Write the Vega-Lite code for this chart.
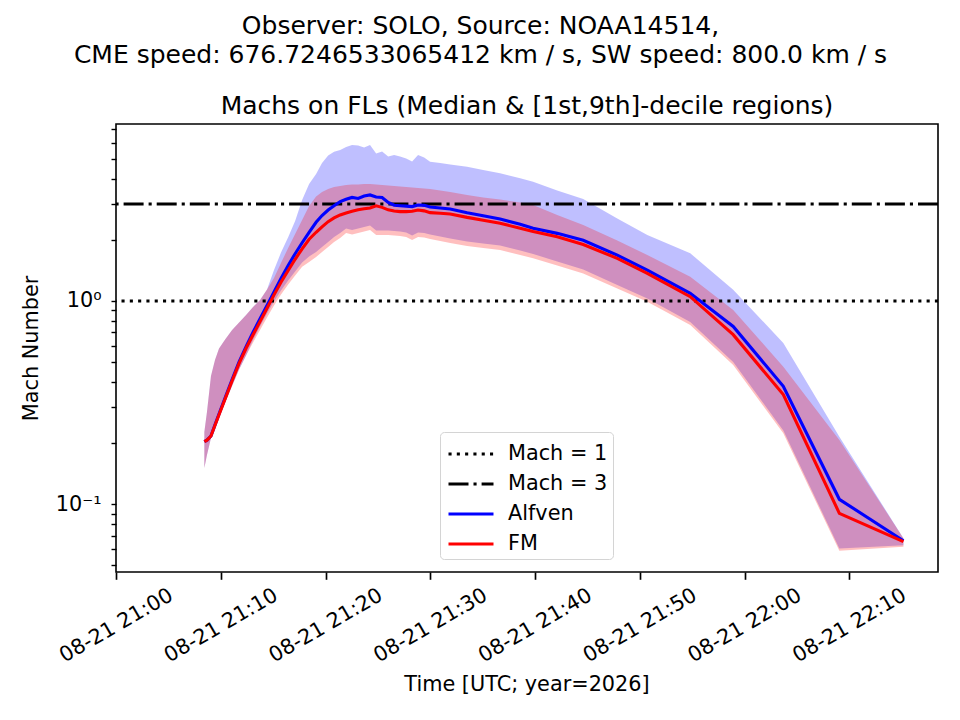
{
  "$schema": "https://vega.github.io/schema/vega-lite/v6.json",
  "width": 822,
  "height": 448,
  "autosize": {"type": "none"},
  "padding": {"left": 116, "top": 124, "right": 22, "bottom": 148},
  "background": "white",
  "title": {
    "text": "Time [UTC; year=2026]",
    "subtitle": "Machs on FLs (Median & [1st,9th]-decile regions)",
    "orient": "bottom",
    "anchor": "middle",
    "frame": "group",
    "font": "DejaVu Sans",
    "fontSize": 20.8,
    "fontWeight": "normal",
    "color": "black",
    "subtitleFont": "DejaVu Sans",
    "subtitleFontSize": 25,
    "subtitleColor": "black",
    "subtitlePadding": -601,
    "offset": 9
  },
  "datasets": {
    "stats": [
      {"t": "2026-08-21T21:08:26Z", "a_med": 0.2032, "a_lo": 0.1509, "a_hi": 0.2267, "f_med": 0.2032, "f_lo": 0.1509, "f_hi": 0.2267},
      {"t": "2026-08-21T21:08:41Z", "a_med": 0.2067, "a_lo": 0.1747, "a_hi": 0.2844, "f_med": 0.2067, "f_lo": 0.1747, "f_hi": 0.2844},
      {"t": "2026-08-21T21:09:04Z", "a_med": 0.2168, "a_lo": 0.2119, "a_hi": 0.4278, "f_med": 0.2168, "f_lo": 0.2119, "f_hi": 0.4278},
      {"t": "2026-08-21T21:09:27Z", "a_med": 0.2458, "a_lo": 0.2373, "a_hi": 0.5126, "f_med": 0.2447, "f_lo": 0.2373, "f_hi": 0.5126},
      {"t": "2026-08-21T21:09:50Z", "a_med": 0.2778, "a_lo": 0.2688, "a_hi": 0.584, "f_med": 0.2756, "f_lo": 0.2688, "f_hi": 0.584},
      {"t": "2026-08-21T21:10:25Z", "a_med": 0.3337, "a_lo": 0.3167, "a_hi": 0.6466, "f_med": 0.3299, "f_lo": 0.3167, "f_hi": 0.6466},
      {"t": "2026-08-21T21:11:05Z", "a_med": 0.4106, "a_lo": 0.3819, "a_hi": 0.7201, "f_med": 0.405, "f_lo": 0.3819, "f_hi": 0.7201},
      {"t": "2026-08-21T21:11:45Z", "a_med": 0.5012, "a_lo": 0.4605, "a_hi": 0.7841, "f_med": 0.4928, "f_lo": 0.4605, "f_hi": 0.7841},
      {"t": "2026-08-21T21:12:25Z", "a_med": 0.5966, "a_lo": 0.5394, "a_hi": 0.8534, "f_med": 0.5852, "f_lo": 0.5394, "f_hi": 0.8534},
      {"t": "2026-08-21T21:13:05Z", "a_med": 0.7015, "a_lo": 0.643, "a_hi": 0.9344, "f_med": 0.6826, "f_lo": 0.625, "f_hi": 0.9344},
      {"t": "2026-08-21T21:13:45Z", "a_med": 0.8175, "a_lo": 0.7492, "a_hi": 1.0114, "f_med": 0.7914, "f_lo": 0.7201, "f_hi": 1.0114},
      {"t": "2026-08-21T21:14:25Z", "a_med": 0.9503, "a_lo": 0.8679, "a_hi": 1.1389, "f_med": 0.9217, "f_lo": 0.8295, "f_hi": 1.1389},
      {"t": "2026-08-21T21:15:05Z", "a_med": 1.106, "a_lo": 0.9943, "a_hi": 1.4209, "f_med": 1.0715, "f_lo": 0.9503, "f_hi": 1.2975},
      {"t": "2026-08-21T21:15:45Z", "a_med": 1.2917, "a_lo": 1.1262, "a_hi": 1.7298, "f_med": 1.2373, "f_lo": 1.0764, "f_hi": 1.5381},
      {"t": "2026-08-21T21:16:26Z", "a_med": 1.4951, "a_lo": 1.2616, "a_hi": 2.0572, "f_med": 1.4126, "f_lo": 1.2055, "f_hi": 1.8225},
      {"t": "2026-08-21T21:17:06Z", "a_med": 1.7069, "a_lo": 1.3967, "a_hi": 2.4746, "f_med": 1.6035, "f_lo": 1.3348, "f_hi": 2.1355},
      {"t": "2026-08-21T21:17:46Z", "a_med": 1.933, "a_lo": 1.5466, "a_hi": 3.1391, "f_med": 1.806, "f_lo": 1.475, "f_hi": 2.5027},
      {"t": "2026-08-21T21:18:26Z", "a_med": 2.1772, "a_lo": 1.6553, "a_hi": 3.7627, "f_med": 2.0115, "f_lo": 1.5552, "f_hi": 2.933},
      {"t": "2026-08-21T21:19:06Z", "a_med": 2.4384, "a_lo": 1.7418, "a_hi": 4.214, "f_med": 2.1772, "f_lo": 1.6458, "f_hi": 3.2659},
      {"t": "2026-08-21T21:19:40Z", "a_med": 2.6309, "a_lo": 1.8433, "a_hi": 4.7731, "f_med": 2.3146, "f_lo": 1.7418, "f_hi": 3.437},
      {"t": "2026-08-21T21:20:15Z", "a_med": 2.8001, "a_lo": 1.9508, "a_hi": 5.196, "f_med": 2.455, "f_lo": 1.8433, "f_hi": 3.5552},
      {"t": "2026-08-21T21:20:49Z", "a_med": 2.9431, "a_lo": 2.0644, "a_hi": 5.4247, "f_med": 2.56, "f_lo": 1.9508, "f_hi": 3.6364},
      {"t": "2026-08-21T21:21:24Z", "a_med": 3.0789, "a_lo": 2.1602, "a_hi": 5.5294, "f_med": 2.6485, "f_lo": 2.0409, "f_hi": 3.6785},
      {"t": "2026-08-21T21:21:58Z", "a_med": 3.1638, "a_lo": 2.2733, "a_hi": 5.721, "f_med": 2.7096, "f_lo": 2.1602, "f_hi": 3.7205},
      {"t": "2026-08-21T21:22:32Z", "a_med": 3.2294, "a_lo": 2.2349, "a_hi": 5.8521, "f_med": 2.7652, "f_lo": 2.1235, "f_hi": 3.7411},
      {"t": "2026-08-21T21:23:07Z", "a_med": 3.1931, "a_lo": 2.2733, "a_hi": 5.8196, "f_med": 2.8098, "f_lo": 2.1602, "f_hi": 3.7411},
      {"t": "2026-08-21T21:23:41Z", "a_med": 3.2849, "a_lo": 2.312, "a_hi": 5.6885, "f_med": 2.8412, "f_lo": 2.1973, "f_hi": 3.7627},
      {"t": "2026-08-21T21:24:15Z", "a_med": 3.3222, "a_lo": 2.3515, "a_hi": 5.8521, "f_med": 2.8672, "f_lo": 2.2349, "f_hi": 3.7627},
      {"t": "2026-08-21T21:24:50Z", "a_med": 3.248, "a_lo": 2.2225, "a_hi": 5.3148, "f_med": 2.9397, "f_lo": 2.1115, "f_hi": 3.7411},
      {"t": "2026-08-21T21:25:24Z", "a_med": 3.2294, "a_lo": 2.2225, "a_hi": 5.4372, "f_med": 2.8871, "f_lo": 2.1115, "f_hi": 3.7205},
      {"t": "2026-08-21T21:25:59Z", "a_med": 3.0515, "a_lo": 2.2225, "a_hi": 5.1377, "f_med": 2.8066, "f_lo": 2.1115, "f_hi": 3.7},
      {"t": "2026-08-21T21:26:33Z", "a_med": 2.956, "a_lo": 2.2099, "a_hi": 5.225, "f_med": 2.7684, "f_lo": 2.0996, "f_hi": 3.6785},
      {"t": "2026-08-21T21:27:07Z", "a_med": 2.9397, "a_lo": 2.1973, "a_hi": 5.1377, "f_med": 2.7499, "f_lo": 2.088, "f_hi": 3.658},
      {"t": "2026-08-21T21:27:42Z", "a_med": 2.9262, "a_lo": 2.1722, "a_hi": 5.0223, "f_med": 2.7499, "f_lo": 2.0644, "f_hi": 3.6364},
      {"t": "2026-08-21T21:28:16Z", "a_med": 2.9127, "a_lo": 2.0996, "a_hi": 4.8551, "f_med": 2.762, "f_lo": 1.9953, "f_hi": 3.6153},
      {"t": "2026-08-21T21:28:50Z", "a_med": 2.9663, "a_lo": 2.1722, "a_hi": 5.225, "f_med": 2.8001, "f_lo": 2.0644, "f_hi": 3.5946},
      {"t": "2026-08-21T21:29:25Z", "a_med": 2.9526, "a_lo": 2.1602, "a_hi": 5.0793, "f_med": 2.7747, "f_lo": 2.0528, "f_hi": 3.5748},
      {"t": "2026-08-21T21:29:59Z", "a_med": 2.9, "a_lo": 2.1235, "a_hi": 4.844, "f_med": 2.7185, "f_lo": 2.0184, "f_hi": 3.5552},
      {"t": "2026-08-21T21:30:57Z", "a_med": 2.8672, "a_lo": 2.0763, "a_hi": 4.7731, "f_med": 2.7003, "f_lo": 1.973, "f_hi": 3.4943},
      {"t": "2026-08-21T21:31:54Z", "a_med": 2.8347, "a_lo": 2.0298, "a_hi": 4.6925, "f_med": 2.6787, "f_lo": 1.929, "f_hi": 3.437},
      {"t": "2026-08-21T21:33:31Z", "a_med": 2.7154, "a_lo": 1.962, "a_hi": 4.5773, "f_med": 2.5772, "f_lo": 1.8646, "f_hi": 3.3222},
      {"t": "2026-08-21T21:35:03Z", "a_med": 2.6249, "a_lo": 1.918, "a_hi": 4.4096, "f_med": 2.497, "f_lo": 1.8225, "f_hi": 3.2294},
      {"t": "2026-08-21T21:36:40Z", "a_med": 2.5307, "a_lo": 1.875, "a_hi": 4.2475, "f_med": 2.411, "f_lo": 1.7814, "f_hi": 3.1569},
      {"t": "2026-08-21T21:38:35Z", "a_med": 2.3841, "a_lo": 1.7712, "a_hi": 4.0129, "f_med": 2.2785, "f_lo": 1.6834, "f_hi": 3.0515},
      {"t": "2026-08-21T21:39:49Z", "a_med": 2.2811, "a_lo": 1.703, "a_hi": 3.862, "f_med": 2.1948, "f_lo": 1.6218, "f_hi": 2.9663},
      {"t": "2026-08-21T21:42:07Z", "a_med": 2.1502, "a_lo": 1.5642, "a_hi": 3.4943, "f_med": 2.0692, "f_lo": 1.4951, "f_hi": 2.6485},
      {"t": "2026-08-21T21:44:36Z", "a_med": 1.9889, "a_lo": 1.4288, "a_hi": 3.1748, "f_med": 1.8966, "f_lo": 1.3655, "f_hi": 2.365},
      {"t": "2026-08-21T21:47:51Z", "a_med": 1.6799, "a_lo": 1.1987, "a_hi": 2.5453, "f_med": 1.6199, "f_lo": 1.1522, "f_hi": 1.9843},
      {"t": "2026-08-21T21:50:43Z", "a_med": 1.4191, "a_lo": 1.0287, "a_hi": 2.1115, "f_med": 1.367, "f_lo": 0.9921, "f_hi": 1.6834},
      {"t": "2026-08-21T21:54:49Z", "a_med": 1.0911, "a_lo": 0.7884, "a_hi": 1.7165, "f_med": 1.0499, "f_lo": 0.7624, "f_hi": 1.3165},
      {"t": "2026-08-21T21:58:55Z", "a_med": 0.7492, "a_lo": 0.5012, "a_hi": 1.1352, "f_med": 0.6826, "f_lo": 0.4844, "f_hi": 0.9031},
      {"t": "2026-08-21T22:03:42Z", "a_med": 0.3806, "a_lo": 0.2307, "a_hi": 0.6216, "f_med": 0.3464, "f_lo": 0.2236, "f_hi": 0.4752},
      {"t": "2026-08-21T22:09:03Z", "a_med": 0.1058, "a_lo": 0.0606, "a_hi": 0.215, "f_med": 0.0903, "f_lo": 0.0591, "f_hi": 0.2072},
      {"t": "2026-08-21T22:15:10Z", "a_med": 0.0662, "a_lo": 0.0628, "a_hi": 0.0681, "f_med": 0.0655, "f_lo": 0.0618, "f_hi": 0.0681}
    ],
    "hlines": [
      {"series": "Mach = 1", "mach": 1},
      {"series": "Mach = 3", "mach": 3}
    ]
  },
  "layer": [
    {
      "data": {"name": "stats"},
      "mark": {"type": "area", "color": "blue", "opacity": 0.25},
      "encoding": {
        "x": {
          "field": "t",
          "type": "temporal",
          "scale": {"type": "utc", "domain": [1787346000000, 1787350708000]},
          "axis": {
            "title": ["Observer: SOLO, Source: NOAA14514,", "CME speed: 676.7246533065412 km / s, SW speed: 800.0 km / s"],
            "titleX": 364,
            "titleY": -539,
            "titleAngle": 0,
            "titleAlign": "center",
            "titleBaseline": "alphabetic",
            "titleLineHeight": 29,
            "titleFont": "DejaVu Sans",
            "titleFontSize": 25,
            "titleFontWeight": "normal",
            "titleColor": "black",
            "labelExpr": "utcFormat(datum.value, '%m-%d %H:%M')",
            "values": [1787346000000, 1787346600000, 1787347200000, 1787347800000, 1787348400000, 1787349000000, 1787349600000, 1787350200000],
            "grid": false,
            "domain": false,
            "tickSize": 7.3,
            "tickWidth": 1.67,
            "tickColor": "black",
            "labelAngle": -30,
            "labelAlign": "center",
            "labelBaseline": "middle",
            "labelPadding": 46,
            "labelFont": "DejaVu Sans",
            "labelFontSize": 20.8,
            "labelColor": "black",
            "labelFlush": false,
            "labelOverlap": false
          }
        },
        "y": {
          "field": "a_lo",
          "type": "quantitative",
          "scale": {"type": "log", "domain": [0.04645, 7.42], "nice": false},
          "axis": {
            "title": "Mach Number",
            "values": [0.05, 0.06, 0.07, 0.08, 0.09, 0.1, 0.2, 0.3, 0.4, 0.5, 0.6, 0.7, 0.8, 0.9, 1, 2, 3, 4, 5, 6, 7],
            "labelExpr": "datum.value == 0.1 ? '10⁻¹' : datum.value == 1 ? '10⁰' : ''",
            "grid": false,
            "domain": false,
            "tickColor": "black",
            "tickSize": 5,
            "tickWidth": 1.4,
            "labelPadding": 10,
            "labelFont": "DejaVu Sans",
            "labelFontSize": 20.8,
            "labelColor": "black",
            "titleFont": "DejaVu Sans",
            "titleFontSize": 20.8,
            "titleFontWeight": "normal",
            "titleColor": "black",
            "titlePadding": 14
          }
        },
        "y2": {"field": "a_hi"}
      }
    },
    {
      "data": {"name": "stats"},
      "mark": {"type": "area", "color": "red", "opacity": 0.25},
      "encoding": {
        "x": {"field": "t", "type": "temporal"},
        "y": {"field": "f_lo", "type": "quantitative"},
        "y2": {"field": "f_hi"}
      }
    },
    {
      "data": {"name": "hlines"},
      "mark": {"type": "rule", "strokeWidth": 3.1},
      "encoding": {
        "y": {"field": "mach", "type": "quantitative"},
        "color": {
          "field": "series",
          "type": "nominal",
          "scale": {"domain": ["Mach = 1", "Mach = 3", "Alfven", "FM"], "range": ["black", "black", "blue", "red"]},
          "legend": {
            "title": null,
            "orient": "none",
            "legendX": 324,
            "legendY": 308,
            "symbolType": "M-0.9,0H2.1",
            "symbolSize": 900,
            "symbolStrokeWidth": 3.1,
            "labelFont": "DejaVu Sans",
            "labelFontSize": 20.8,
            "labelColor": "black",
            "labelOffset": 29,
            "padding": 5,
            "rowPadding": 3,
            "fillColor": "white",
            "strokeColor": "#d4d4d4",
            "cornerRadius": 4
          }
        },
        "strokeDash": {
          "field": "series",
          "type": "nominal",
          "scale": {"domain": ["Mach = 1", "Mach = 3", "Alfven", "FM"], "range": [[3.1, 5.2], [20, 5, 3.1, 5], [1, 0], [1, 0]]},
          "legend": {
            "title": null,
            "orient": "none",
            "legendX": 324,
            "legendY": 308,
            "symbolType": "M-0.9,0H2.1",
            "symbolSize": 900,
            "symbolStrokeWidth": 3.1,
            "labelFont": "DejaVu Sans",
            "labelFontSize": 20.8,
            "labelColor": "black",
            "labelOffset": 29,
            "padding": 5,
            "rowPadding": 3,
            "fillColor": "white",
            "strokeColor": "#d4d4d4",
            "cornerRadius": 4
          }
        }
      }
    },
    {
      "data": {"name": "stats"},
      "mark": {"type": "line", "strokeWidth": 3.1, "color": "blue"},
      "encoding": {
        "x": {"field": "t", "type": "temporal"},
        "y": {"field": "a_med", "type": "quantitative"}
      }
    },
    {
      "data": {"name": "stats"},
      "mark": {"type": "line", "strokeWidth": 3.1, "color": "red"},
      "encoding": {
        "x": {"field": "t", "type": "temporal"},
        "y": {"field": "f_med", "type": "quantitative"}
      }
    }
  ],
  "config": {
    "font": "DejaVu Sans",
    "view": {"stroke": "black", "strokeWidth": 1.6}
  }
}
